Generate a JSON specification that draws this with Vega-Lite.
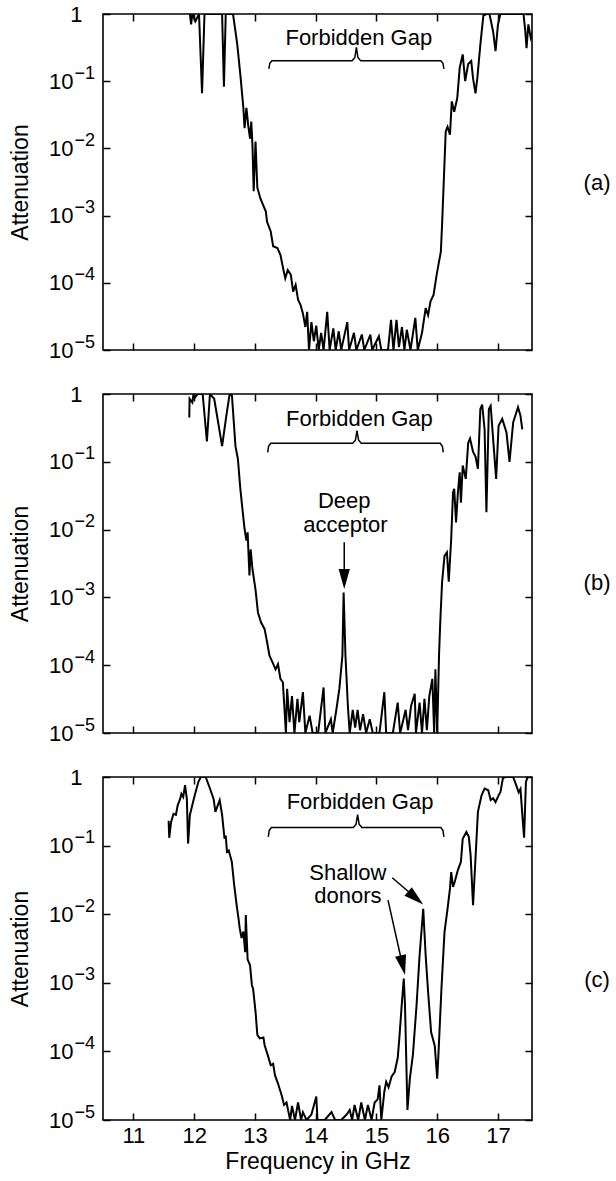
{
  "$schema": "https://vega.github.io/schema/vega-lite/v6.json",
  "padding": {"top": 2, "left": 8, "right": 0, "bottom": 0},
  "background": "white",
  "config": {
    "view": {"stroke": "black", "strokeWidth": 1.6},
    "font": "Liberation Sans",
    "axis": {"domain": false, "grid": false, "tickColor": "black", "tickWidth": 1.5, "labelColor": "black", "titleColor": "black", "labelFont": "Liberation Sans", "titleFont": "Liberation Sans", "titleFontWeight": "normal", "labelFlush": false, "labelOverlap": false, "labelBound": false, "minExtent": 0},
    "text": {"font": "Liberation Sans", "fontSize": 22, "color": "black"}
  },
  "datasets": {
    "a": [
      {"f":11.93,"v":1},{"f":11.95,"v":0.7},{"f":11.97,"v":1},{"f":12.02,"v":0.78},{"f":12.08,"v":1},{"f":12.13,"v":0.066},{"f":12.17,"v":1},{"f":12.46,"v":1},{"f":12.49,"v":0.083},{"f":12.52,"v":1},{"f":12.64,"v":1},{"f":12.71,"v":0.35},{"f":12.76,"v":0.125},{"f":12.81,"v":0.04},{"f":12.83,"v":0.02},{"f":12.86,"v":0.04},{"f":12.89,"v":0.022},{"f":12.92,"v":0.014},{"f":12.94,"v":0.025},{"f":12.96,"v":0.011},{"f":12.98,"v":0.0023},{"f":13.01,"v":0.0126},{"f":13.04,"v":0.0026},{"f":13.09,"v":0.0018},{"f":13.18,"v":0.00115},{"f":13.2,"v":0.00081},{"f":13.26,"v":0.00058},{"f":13.3,"v":0.00035},{"f":13.37,"v":0.00033},{"f":13.42,"v":0.00026},{"f":13.47,"v":0.000155},{"f":13.5,"v":0.000117},{"f":13.54,"v":0.000155},{"f":13.59,"v":0.000132},{"f":13.63,"v":0.000074},{"f":13.67,"v":0.000093},{"f":13.71,"v":0.000056},{"f":13.75,"v":0.000047},{"f":13.79,"v":0.000035},{"f":13.83,"v":0.000022},{"f":13.86,"v":0.000037},{"f":13.89,"v":0.00001},{"f":13.93,"v":0.000026},{"f":13.97,"v":0.0000135},{"f":14.01,"v":0.000023},{"f":14.05,"v":0.00001},{"f":14.09,"v":0.000018},{"f":14.13,"v":0.00001},{"f":14.19,"v":0.000037},{"f":14.23,"v":0.00001},{"f":14.29,"v":0.000021},{"f":14.33,"v":0.00001},{"f":14.38,"v":0.000019},{"f":14.42,"v":0.00001},{"f":14.52,"v":0.000026},{"f":14.55,"v":0.00001},{"f":14.63,"v":0.000018},{"f":14.67,"v":0.00001},{"f":14.76,"v":0.000017},{"f":14.8,"v":0.00001},{"f":14.9,"v":0.000017},{"f":14.93,"v":0.00001},{"f":15.04,"v":0.000016},{"f":15.08,"v":0.00001},{"f":15.19,"v":0.00001},{"f":15.24,"v":0.000028},{"f":15.28,"v":0.00001},{"f":15.33,"v":0.000028},{"f":15.37,"v":0.000011},{"f":15.42,"v":0.000022},{"f":15.46,"v":0.00001},{"f":15.5,"v":0.00002},{"f":15.56,"v":0.00001},{"f":15.64,"v":0.00003},{"f":15.68,"v":0.00001},{"f":15.75,"v":0.000018},{"f":15.81,"v":0.000042},{"f":15.85,"v":0.000033},{"f":15.89,"v":0.000053},{"f":15.94,"v":0.000066},{"f":15.99,"v":0.00013},{"f":16.02,"v":0.000185},{"f":16.06,"v":0.00029},{"f":16.08,"v":0.00073},{"f":16.11,"v":0.0036},{"f":16.14,"v":0.0178},{"f":16.17,"v":0.021},{"f":16.21,"v":0.016},{"f":16.24,"v":0.05},{"f":16.28,"v":0.035},{"f":16.33,"v":0.056},{"f":16.37,"v":0.158},{"f":16.42,"v":0.25},{"f":16.46,"v":0.1},{"f":16.51,"v":0.18},{"f":16.56,"v":0.2},{"f":16.59,"v":0.11},{"f":16.63,"v":0.066},{"f":16.66,"v":0.11},{"f":16.71,"v":0.35},{"f":16.76,"v":0.95},{"f":16.81,"v":1},{"f":16.86,"v":1},{"f":16.92,"v":0.55},{"f":16.96,"v":0.28},{"f":17.0,"v":0.7},{"f":17.04,"v":1},{"f":17.42,"v":1},{"f":17.45,"v":0.55},{"f":17.47,"v":0.31},{"f":17.5,"v":0.7},{"f":17.54,"v":0.44},{"f":17.58,"v":0.55}
    ],
    "b": [
      {"f":11.92,"v":0.45},{"f":11.925,"v":0.85},{"f":11.97,"v":0.75},{"f":11.99,"v":1},{"f":12.02,"v":0.9},{"f":12.06,"v":1},{"f":12.14,"v":1},{"f":12.21,"v":0.2},{"f":12.26,"v":1},{"f":12.33,"v":0.85},{"f":12.46,"v":0.17},{"f":12.53,"v":0.48},{"f":12.58,"v":0.95},{"f":12.62,"v":1},{"f":12.68,"v":0.17},{"f":12.72,"v":0.11},{"f":12.76,"v":0.04},{"f":12.79,"v":0.022},{"f":12.83,"v":0.0102},{"f":12.86,"v":0.0069},{"f":12.88,"v":0.0091},{"f":12.91,"v":0.0021},{"f":12.93,"v":0.0051},{"f":12.96,"v":0.0026},{"f":13.01,"v":0.0013},{"f":13.05,"v":0.0006},{"f":13.1,"v":0.00043},{"f":13.16,"v":0.00034},{"f":13.2,"v":0.00022},{"f":13.24,"v":0.000138},{"f":13.29,"v":0.00011},{"f":13.34,"v":0.000087},{"f":13.38,"v":0.000104},{"f":13.42,"v":0.000063},{"f":13.46,"v":0.000056},{"f":13.51,"v":0.00001},{"f":13.53,"v":0.000045},{"f":13.57,"v":0.0000145},{"f":13.61,"v":0.000035},{"f":13.65,"v":0.00001},{"f":13.7,"v":0.000032},{"f":13.73,"v":0.0000145},{"f":13.79,"v":0.00004},{"f":13.83,"v":0.00001},{"f":13.9,"v":0.000018},{"f":13.95,"v":0.00001},{"f":14.04,"v":0.00001},{"f":14.13,"v":0.000047},{"f":14.16,"v":0.00001},{"f":14.25,"v":0.000016},{"f":14.28,"v":0.00001},{"f":14.34,"v":0.000022},{"f":14.39,"v":0.000045},{"f":14.44,"v":0.00014},{"f":14.46,"v":0.00118},{"f":14.49,"v":0.00014},{"f":14.53,"v":0.000025},{"f":14.56,"v":0.00001},{"f":14.61,"v":0.000022},{"f":14.65,"v":0.000012},{"f":14.69,"v":0.000022},{"f":14.73,"v":0.000011},{"f":14.78,"v":0.000019},{"f":14.83,"v":0.00001},{"f":14.89,"v":0.000016},{"f":14.94,"v":0.00001},{"f":15.05,"v":0.00001},{"f":15.13,"v":0.00004},{"f":15.16,"v":0.00001},{"f":15.27,"v":0.00001},{"f":15.35,"v":0.000028},{"f":15.39,"v":0.00001},{"f":15.43,"v":0.000014},{"f":15.48,"v":0.000022},{"f":15.52,"v":0.000011},{"f":15.57,"v":0.000025},{"f":15.63,"v":0.000038},{"f":15.65,"v":0.00001},{"f":15.71,"v":0.000028},{"f":15.75,"v":0.00001},{"f":15.79,"v":0.000032},{"f":15.83,"v":0.000011},{"f":15.87,"v":0.000035},{"f":15.92,"v":0.000063},{"f":15.95,"v":0.00001},{"f":15.97,"v":0.000087},{"f":16.0,"v":0.00001},{"f":16.03,"v":0.00014},{"f":16.05,"v":0.00043},{"f":16.08,"v":0.00166},{"f":16.12,"v":0.0041},{"f":16.16,"v":0.0046},{"f":16.19,"v":0.0017},{"f":16.23,"v":0.0072},{"f":16.26,"v":0.035},{"f":16.28,"v":0.04},{"f":16.31,"v":0.0128},{"f":16.34,"v":0.035},{"f":16.37,"v":0.07},{"f":16.39,"v":0.025},{"f":16.42,"v":0.088},{"f":16.47,"v":0.056},{"f":16.51,"v":0.19},{"f":16.54,"v":0.22},{"f":16.59,"v":0.14},{"f":16.63,"v":0.12},{"f":16.67,"v":0.079},{"f":16.71,"v":0.6},{"f":16.74,"v":0.7},{"f":16.78,"v":0.3},{"f":16.81,"v":0.018},{"f":16.85,"v":0.6},{"f":16.88,"v":0.67},{"f":16.92,"v":0.22},{"f":16.97,"v":0.056},{"f":17.01,"v":0.34},{"f":17.07,"v":0.43},{"f":17.14,"v":0.27},{"f":17.19,"v":0.1},{"f":17.25,"v":0.38},{"f":17.33,"v":0.64},{"f":17.37,"v":0.48},{"f":17.4,"v":0.3}
    ],
    "c": [
      {"f":11.58,"v":0.23},{"f":11.59,"v":0.13},{"f":11.62,"v":0.22},{"f":11.66,"v":0.29},{"f":11.7,"v":0.28},{"f":11.73,"v":0.39},{"f":11.77,"v":0.48},{"f":11.79,"v":0.57},{"f":11.82,"v":0.51},{"f":11.85,"v":0.76},{"f":11.88,"v":0.48},{"f":11.9,"v":0.107},{"f":11.93,"v":0.28},{"f":11.97,"v":0.39},{"f":12.01,"v":0.54},{"f":12.07,"v":0.85},{"f":12.11,"v":1},{"f":12.19,"v":1},{"f":12.26,"v":0.68},{"f":12.32,"v":0.48},{"f":12.35,"v":0.31},{"f":12.39,"v":0.39},{"f":12.42,"v":0.46},{"f":12.46,"v":0.28},{"f":12.5,"v":0.126},{"f":12.52,"v":0.14},{"f":12.54,"v":0.081},{"f":12.57,"v":0.085},{"f":12.62,"v":0.058},{"f":12.66,"v":0.026},{"f":12.7,"v":0.0135},{"f":12.73,"v":0.0087},{"f":12.75,"v":0.0062},{"f":12.78,"v":0.0045},{"f":12.81,"v":0.0056},{"f":12.84,"v":0.0028},{"f":12.85,"v":0.0097},{"f":12.88,"v":0.0022},{"f":12.92,"v":0.0018},{"f":12.95,"v":0.00093},{"f":12.97,"v":0.00082},{"f":13.01,"v":0.00038},{"f":13.04,"v":0.000174},{"f":13.08,"v":0.000155},{"f":13.14,"v":0.00016},{"f":13.16,"v":0.000123},{"f":13.21,"v":0.000089},{"f":13.26,"v":0.000063},{"f":13.3,"v":0.000066},{"f":13.33,"v":0.000045},{"f":13.38,"v":0.000034},{"f":13.44,"v":0.000023},{"f":13.48,"v":0.0000166},{"f":13.52,"v":0.000018},{"f":13.58,"v":0.00001},{"f":13.61,"v":0.000016},{"f":13.66,"v":0.00001},{"f":13.71,"v":0.000018},{"f":13.76,"v":0.00001},{"f":13.79,"v":0.000013},{"f":13.85,"v":0.00001},{"f":13.93,"v":0.000012},{"f":14.01,"v":0.000022},{"f":14.03,"v":0.00001},{"f":14.15,"v":0.00001},{"f":14.26,"v":0.000013},{"f":14.32,"v":0.00001},{"f":14.42,"v":0.00001},{"f":14.51,"v":0.000012},{"f":14.56,"v":0.000014},{"f":14.6,"v":0.00001},{"f":14.64,"v":0.0000166},{"f":14.7,"v":0.00001},{"f":14.75,"v":0.000018},{"f":14.81,"v":0.00001},{"f":14.86,"v":0.0000166},{"f":14.92,"v":0.00001},{"f":14.97,"v":0.000018},{"f":15.02,"v":0.00002},{"f":15.05,"v":0.000032},{"f":15.08,"v":0.00001},{"f":15.13,"v":0.000026},{"f":15.16,"v":0.000036},{"f":15.2,"v":0.00003},{"f":15.25,"v":0.000043},{"f":15.3,"v":0.00005},{"f":15.35,"v":0.00008},{"f":15.38,"v":0.00017},{"f":15.42,"v":0.00053},{"f":15.45,"v":0.00115},{"f":15.47,"v":0.00047},{"f":15.51,"v":0.000014},{"f":15.55,"v":0.00004},{"f":15.6,"v":0.000089},{"f":15.66,"v":0.00047},{"f":15.71,"v":0.0025},{"f":15.77,"v":0.012},{"f":15.81,"v":0.0025},{"f":15.85,"v":0.00074},{"f":15.9,"v":0.00019},{"f":15.96,"v":0.00012},{"f":16.0,"v":0.00004},{"f":16.02,"v":0.000089},{"f":16.07,"v":0.00083},{"f":16.12,"v":0.0055},{"f":16.17,"v":0.012},{"f":16.21,"v":0.0235},{"f":16.23,"v":0.041},{"f":16.26,"v":0.025},{"f":16.29,"v":0.03},{"f":16.34,"v":0.044},{"f":16.39,"v":0.058},{"f":16.42,"v":0.126},{"f":16.48,"v":0.158},{"f":16.52,"v":0.134},{"f":16.55,"v":0.072},{"f":16.59,"v":0.0135},{"f":16.63,"v":0.065},{"f":16.67,"v":0.31},{"f":16.73,"v":0.54},{"f":16.78,"v":0.68},{"f":16.84,"v":0.64},{"f":16.88,"v":0.46},{"f":16.92,"v":0.49},{"f":16.96,"v":0.43},{"f":17.01,"v":0.54},{"f":17.04,"v":0.6},{"f":17.08,"v":0.95},{"f":17.12,"v":1},{"f":17.25,"v":1},{"f":17.3,"v":0.76},{"f":17.34,"v":0.6},{"f":17.37,"v":0.67},{"f":17.41,"v":0.22},{"f":17.43,"v":0.13},{"f":17.46,"v":0.85},{"f":17.49,"v":1}
    ],
    "lines": [
      {"p":"a","g":"brace","f":13.23,"v":0.153},{"p":"a","g":"brace","f":13.245,"v":0.185},{"p":"a","g":"brace","f":13.28,"v":0.202},{"p":"a","g":"brace","f":14.6,"v":0.202},{"p":"a","g":"brace","f":14.645,"v":0.225},{"p":"a","g":"brace","f":14.67,"v":0.319},{"p":"a","g":"brace","f":14.695,"v":0.225},{"p":"a","g":"brace","f":14.74,"v":0.202},{"p":"a","g":"brace","f":16.06,"v":0.202},{"p":"a","g":"brace","f":16.095,"v":0.185},{"p":"a","g":"brace","f":16.11,"v":0.153},
      {"p":"b","g":"brace","f":13.21,"v":0.138},{"p":"b","g":"brace","f":13.225,"v":0.17},{"p":"b","g":"brace","f":13.26,"v":0.187},{"p":"b","g":"brace","f":14.61,"v":0.187},{"p":"b","g":"brace","f":14.655,"v":0.21},{"p":"b","g":"brace","f":14.68,"v":0.288},{"p":"b","g":"brace","f":14.705,"v":0.21},{"p":"b","g":"brace","f":14.75,"v":0.187},{"p":"b","g":"brace","f":16.05,"v":0.187},{"p":"b","g":"brace","f":16.085,"v":0.17},{"p":"b","g":"brace","f":16.1,"v":0.138},
      {"p":"b","g":"arrow","f":14.47,"v":0.0065},{"p":"b","g":"arrow","f":14.47,"v":0.0019},
      {"p":"c","g":"brace","f":13.22,"v":0.134},{"p":"c","g":"brace","f":13.235,"v":0.166},{"p":"c","g":"brace","f":13.27,"v":0.183},{"p":"c","g":"brace","f":14.62,"v":0.183},{"p":"c","g":"brace","f":14.665,"v":0.205},{"p":"c","g":"brace","f":14.69,"v":0.283},{"p":"c","g":"brace","f":14.715,"v":0.205},{"p":"c","g":"brace","f":14.76,"v":0.183},{"p":"c","g":"brace","f":16.06,"v":0.183},{"p":"c","g":"brace","f":16.095,"v":0.166},{"p":"c","g":"brace","f":16.11,"v":0.134},
      {"p":"c","g":"arrow1","f":15.26,"v":0.034},{"p":"c","g":"arrow1","f":15.65,"v":0.0172},
      {"p":"c","g":"arrow2","f":15.19,"v":0.016},{"p":"c","g":"arrow2","f":15.43,"v":0.0018}
    ],
    "heads": [
      {"p":"b","g":"arrow","f":14.47,"v":0.00133},
      {"p":"c","g":"arrow1","f":15.77,"v":0.0138},
      {"p":"c","g":"arrow2","f":15.47,"v":0.0013}
    ],
    "texts": [
      {"p":"a","f":14.71,"v":0.349,"t":"Forbidden Gap"},
      {"p":"a","f":18.63,"v":0.0024,"t":"(a)"},
      {"p":"b","f":14.72,"v":0.341,"t":"Forbidden Gap"},
      {"p":"b","f":14.47,"v":0.0206,"t":"Deep"},
      {"p":"b","f":14.49,"v":0.0093,"t":"acceptor"},
      {"p":"b","f":18.63,"v":0.0013,"t":"(b)"},
      {"p":"c","f":14.73,"v":0.34,"t":"Forbidden Gap"},
      {"p":"c","f":14.53,"v":0.032,"t":"Shallow"},
      {"p":"c","f":14.53,"v":0.0148,"t":"donors"},
      {"p":"c","f":18.63,"v":0.00087,"t":"(c)"}
    ]
  },
  "bounds": "flush",
  "spacing": 44,
  "vconcat": [
    {
      "width": 429, "height": 336,
      "layer": [
        {"data": {"name": "a"}, "mark": {"type": "line", "color": "black", "strokeWidth": 2, "clip": true},
         "encoding": {
           "x": {"field": "f", "type": "quantitative", "scale": {"domain": [10.5, 17.56], "nice": false, "zero": false}, "axis": {"orient": "bottom", "values": [11,12,13,14,15,16,17], "tickSize": -7, "labels": false, "title": null}},
           "y": {"field": "v", "type": "quantitative", "scale": {"type": "log", "domain": [0.00001, 1], "nice": false}, "axis": {"orient": "left", "values": [0.00001,0.0001,0.001,0.01,0.1,1], "tickSize": -7, "labels": false, "title": "Attenuation", "titleFontSize": 23, "titlePadding": 70}}}},
        {"data": {"name": "lines"}, "transform": [{"filter": "datum.p == 'a'"}], "mark": {"type": "line", "color": "black", "strokeWidth": 1.5},
         "encoding": {
           "x": {"field": "f", "type": "quantitative", "scale": {"domain": [10.5, 17.56], "nice": false, "zero": false}, "axis": {"orient": "top", "values": [11,12,13,14,15,16,17], "tickSize": -7, "labels": false, "title": null}},
           "y": {"field": "v", "type": "quantitative", "scale": {"type": "log", "domain": [0.00001, 1], "nice": false}, "axis": {"orient": "right", "values": [0.00001,0.0001,0.001,0.01,0.1,1], "tickSize": -7, "labels": false, "title": null}},
           "detail": {"field": "g"}}},
        {"data": {"name": "texts"}, "transform": [{"filter": "datum.p == 'a'"}], "mark": {"type": "text", "fontSize": 22, "baseline": "alphabetic", "align": "center"},
         "encoding": {
           "x": {"field": "f", "type": "quantitative", "scale": {"domain": [10.5, 17.56], "nice": false, "zero": false}, "axis": null},
           "y": {"field": "v", "type": "quantitative", "scale": {"type": "log", "domain": [0.00001, 1], "nice": false}, "axis": {"orient": "left", "values": [0.00001,0.0001,0.001,0.01,0.1,1], "ticks": false, "labelExpr": "datum.value >= 1 ? '1' : '10'", "labelAlign": "right", "labelBaseline": "middle", "labelFontSize": 22, "labelPadding": {"condition": {"test": "datum.value >= 1", "value": 21}, "value": 30}, "title": null}},
           "text": {"field": "t"}}},
        {"data": {"name": "heads"}, "transform": [{"filter": "datum.p == 'a'"}], "mark": {"type": "point", "shape": "M0,0L-0.45,-1.6L0.45,-1.6Z", "filled": true, "size": 625, "color": "black", "opacity": 1},
         "encoding": {
           "x": {"field": "f", "type": "quantitative", "scale": {"domain": [10.5, 17.56], "nice": false, "zero": false}, "axis": null},
           "y": {"field": "v", "type": "quantitative", "scale": {"type": "log", "domain": [0.00001, 1], "nice": false}, "axis": {"orient": "left", "values": [0.00001,0.0001,0.001,0.01,0.1], "ticks": false, "labelExpr": "'−' + format(-log(datum.value)/LN10, '.0f')", "labelAlign": "left", "labelBaseline": "middle", "labelFontSize": 18, "labelPadding": 29, "labelOffset": -8, "title": null}}}}
      ],
      "resolve": {"axis": {"x": "independent", "y": "independent"}}
    },
    {
      "width": 429, "height": 339,
      "layer": [
        {"data": {"name": "b"}, "mark": {"type": "line", "color": "black", "strokeWidth": 2, "clip": true},
         "encoding": {
           "x": {"field": "f", "type": "quantitative", "scale": {"domain": [10.5, 17.56], "nice": false, "zero": false}, "axis": {"orient": "bottom", "values": [11,12,13,14,15,16,17], "tickSize": -7, "labels": false, "title": null}},
           "y": {"field": "v", "type": "quantitative", "scale": {"type": "log", "domain": [0.00001, 1], "nice": false}, "axis": {"orient": "left", "values": [0.00001,0.0001,0.001,0.01,0.1,1], "tickSize": -7, "labels": false, "title": "Attenuation", "titleFontSize": 23, "titlePadding": 70}}}},
        {"data": {"name": "lines"}, "transform": [{"filter": "datum.p == 'b'"}], "mark": {"type": "line", "color": "black", "strokeWidth": 1.5},
         "encoding": {
           "x": {"field": "f", "type": "quantitative", "scale": {"domain": [10.5, 17.56], "nice": false, "zero": false}, "axis": {"orient": "top", "values": [11,12,13,14,15,16,17], "tickSize": -7, "labels": false, "title": null}},
           "y": {"field": "v", "type": "quantitative", "scale": {"type": "log", "domain": [0.00001, 1], "nice": false}, "axis": {"orient": "right", "values": [0.00001,0.0001,0.001,0.01,0.1,1], "tickSize": -7, "labels": false, "title": null}},
           "detail": {"field": "g"}}},
        {"data": {"name": "texts"}, "transform": [{"filter": "datum.p == 'b'"}], "mark": {"type": "text", "fontSize": 22, "baseline": "alphabetic", "align": "center"},
         "encoding": {
           "x": {"field": "f", "type": "quantitative", "scale": {"domain": [10.5, 17.56], "nice": false, "zero": false}, "axis": null},
           "y": {"field": "v", "type": "quantitative", "scale": {"type": "log", "domain": [0.00001, 1], "nice": false}, "axis": {"orient": "left", "values": [0.00001,0.0001,0.001,0.01,0.1,1], "ticks": false, "labelExpr": "datum.value >= 1 ? '1' : '10'", "labelAlign": "right", "labelBaseline": "middle", "labelFontSize": 22, "labelPadding": {"condition": {"test": "datum.value >= 1", "value": 21}, "value": 30}, "title": null}},
           "text": {"field": "t"}}},
        {"data": {"name": "heads"}, "transform": [{"filter": "datum.p == 'b'"}], "mark": {"type": "point", "shape": "M0,0L-0.45,-1.6L0.45,-1.6Z", "filled": true, "size": 625, "color": "black", "opacity": 1},
         "encoding": {
           "x": {"field": "f", "type": "quantitative", "scale": {"domain": [10.5, 17.56], "nice": false, "zero": false}, "axis": null},
           "y": {"field": "v", "type": "quantitative", "scale": {"type": "log", "domain": [0.00001, 1], "nice": false}, "axis": {"orient": "left", "values": [0.00001,0.0001,0.001,0.01,0.1], "ticks": false, "labelExpr": "'−' + format(-log(datum.value)/LN10, '.0f')", "labelAlign": "left", "labelBaseline": "middle", "labelFontSize": 18, "labelPadding": 29, "labelOffset": -8, "title": null}}}}
      ],
      "resolve": {"axis": {"x": "independent", "y": "independent"}}
    },
    {
      "width": 429, "height": 343,
      "layer": [
        {"data": {"name": "c"}, "mark": {"type": "line", "color": "black", "strokeWidth": 2, "clip": true},
         "encoding": {
           "x": {"field": "f", "type": "quantitative", "scale": {"domain": [10.5, 17.56], "nice": false, "zero": false}, "axis": {"orient": "bottom", "values": [11,12,13,14,15,16,17], "tickSize": -7, "labels": false, "title": null}},
           "y": {"field": "v", "type": "quantitative", "scale": {"type": "log", "domain": [0.00001, 1], "nice": false}, "axis": {"orient": "left", "values": [0.00001,0.0001,0.001,0.01,0.1,1], "tickSize": -7, "labels": false, "title": "Attenuation", "titleFontSize": 23, "titlePadding": 70}}}},
        {"data": {"name": "lines"}, "transform": [{"filter": "datum.p == 'c'"}], "mark": {"type": "line", "color": "black", "strokeWidth": 1.5},
         "encoding": {
           "x": {"field": "f", "type": "quantitative", "scale": {"domain": [10.5, 17.56], "nice": false, "zero": false}, "axis": {"orient": "top", "values": [11,12,13,14,15,16,17], "tickSize": -7, "labels": false, "title": null}},
           "y": {"field": "v", "type": "quantitative", "scale": {"type": "log", "domain": [0.00001, 1], "nice": false}, "axis": {"orient": "right", "values": [0.00001,0.0001,0.001,0.01,0.1,1], "tickSize": -7, "labels": false, "title": null}},
           "detail": {"field": "g"}}},
        {"data": {"name": "texts"}, "transform": [{"filter": "datum.p == 'c'"}], "mark": {"type": "text", "fontSize": 22, "baseline": "alphabetic", "align": "center"},
         "encoding": {
           "x": {"field": "f", "type": "quantitative", "scale": {"domain": [10.5, 17.56], "nice": false, "zero": false}, "axis": {"orient": "bottom", "values": [11,12,13,14,15,16,17], "ticks": false, "labelFontSize": 22, "labelPadding": 5, "title": "Frequency in GHz", "titleFontSize": 23, "titlePadding": 4}},
           "y": {"field": "v", "type": "quantitative", "scale": {"type": "log", "domain": [0.00001, 1], "nice": false}, "axis": {"orient": "left", "values": [0.00001,0.0001,0.001,0.01,0.1,1], "ticks": false, "labelExpr": "datum.value >= 1 ? '1' : '10'", "labelAlign": "right", "labelBaseline": "middle", "labelFontSize": 22, "labelPadding": {"condition": {"test": "datum.value >= 1", "value": 21}, "value": 30}, "title": null}},
           "text": {"field": "t"}}},
        {"data": {"name": "heads"}, "transform": [{"filter": "datum.g == 'arrow2'"}], "mark": {"type": "point", "shape": "M0,0L-0.45,-1.6L0.45,-1.6Z", "filled": true, "size": 625, "color": "black", "opacity": 1, "angle": -12.8},
         "encoding": {
           "x": {"field": "f", "type": "quantitative", "scale": {"domain": [10.5, 17.56], "nice": false, "zero": false}, "axis": null},
           "y": {"field": "v", "type": "quantitative", "scale": {"type": "log", "domain": [0.00001, 1], "nice": false}, "axis": {"orient": "left", "values": [0.00001,0.0001,0.001,0.01,0.1], "ticks": false, "labelExpr": "'−' + format(-log(datum.value)/LN10, '.0f')", "labelAlign": "left", "labelBaseline": "middle", "labelFontSize": 18, "labelPadding": 29, "labelOffset": -8, "title": null}}}},
        {"data": {"name": "heads"}, "transform": [{"filter": "datum.g == 'arrow1'"}], "mark": {"type": "point", "shape": "M0,0L-0.45,-1.6L0.45,-1.6Z", "filled": true, "size": 625, "color": "black", "opacity": 1, "angle": -49},
         "encoding": {
           "x": {"field": "f", "type": "quantitative", "scale": {"domain": [10.5, 17.56], "nice": false, "zero": false}, "axis": null},
           "y": {"field": "v", "type": "quantitative", "scale": {"type": "log", "domain": [0.00001, 1], "nice": false}, "axis": null}}}
      ],
      "resolve": {"axis": {"x": "independent", "y": "independent"}}
    }
  ]
}
